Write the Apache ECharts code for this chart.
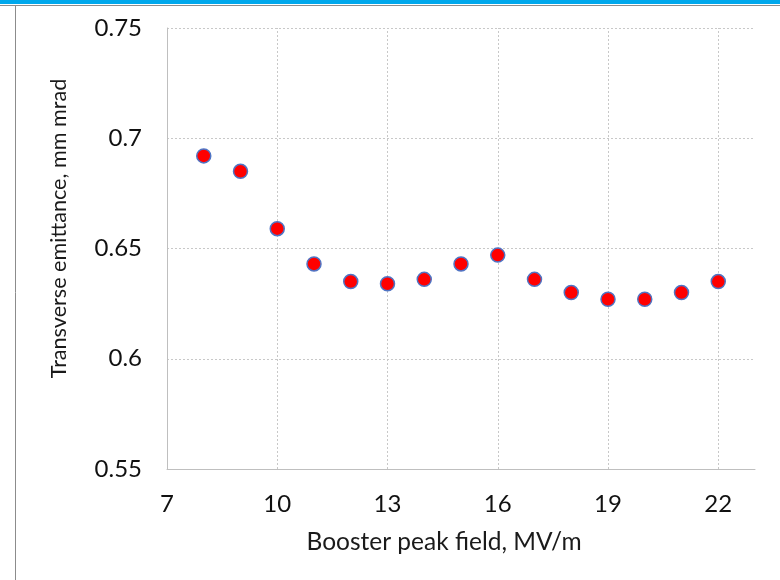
<!DOCTYPE html>
<html>
<head>
<meta charset="utf-8">
<script src="https://cdn.jsdelivr.net/npm/echarts@6/dist/echarts.min.js"></script>
<style>
  html, body { margin: 0; padding: 0; background: #fff; }
  #chart { width: 780px; height: 580px; }
</style>
</head>
<body>
<div id="chart"></div>
<script>
const fieldValues = [8, 9, 10, 11, 12, 13, 14, 15, 16, 17, 18, 19, 20, 21, 22];
const emittanceValues = [0.692, 0.685, 0.659, 0.643, 0.635, 0.634, 0.636, 0.643, 0.647, 0.636, 0.630, 0.627, 0.627, 0.630, 0.635];
const xTickValues = [7, 10, 13, 16, 19, 22];
const xTitle = 'Booster peak field, MV/m';
const yTitle = 'Transverse emittance, mm mrad';

const points = fieldValues.map((x, i) => [x, emittanceValues[i]]);

const chart = echarts.init(document.getElementById('chart'), null, { renderer: 'canvas' });
const font = 'Lato, "Open Sans", sans-serif';
const gridColor = '#c8c8c8';

chart.setOption({
  animation: false,
  backgroundColor: '#ffffff',
  graphic: [
    { type: 'rect', shape: { x: 0, y: 0, width: 780, height: 4 }, style: { fill: '#00a8ec' }, silent: true },
    { type: 'line', shape: { x1: 0, y1: 5.5, x2: 780, y2: 5.5 }, style: { stroke: '#8c8c8c', lineWidth: 1 }, silent: true },
    { type: 'line', shape: { x1: 15.5, y1: 5, x2: 15.5, y2: 580 }, style: { stroke: '#8c8c8c', lineWidth: 1 }, silent: true }
  ],
  grid: { left: 167, top: 28, width: 588, height: 441, containLabel: false },
  xAxis: {
    type: 'value',
    min: 7, max: 23, interval: 3,
    name: xTitle,
    nameLocation: 'middle',
    nameGap: 61,
    nameTextStyle: { fontFamily: font, fontSize: 24.5, color: '#1a1a1a', padding: [0, 34, 0, 0] },
    axisLine: { show: true, lineStyle: { color: '#bfbfbf', width: 1 } },
    axisTick: { show: false },
    axisLabel: { fontFamily: font, fontSize: 24, color: '#111', margin: 23, showMaxLabel: false },
    splitLine: { show: false }
  },
  yAxis: {
    type: 'value',
    min: 0.55, max: 0.75, interval: 0.05,
    name: yTitle,
    nameLocation: 'middle',
    nameGap: 97,
    nameTextStyle: { fontFamily: font, fontSize: 21.6, color: '#1a1a1a', padding: [0, 0, 0, 40] },
    axisLine: { show: true, lineStyle: { color: '#bfbfbf', width: 1 } },
    axisTick: { show: false },
    axisLabel: {
      fontFamily: font, fontSize: 24, color: '#111', margin: 25,
      formatter: v => String(parseFloat(v.toFixed(2)))
    },
    splitLine: { show: true, lineStyle: { color: gridColor, type: [2, 2], width: 1 } }
  },
  series: [{
    type: 'scatter',
    data: points,
    symbol: 'circle',
    symbolSize: 14,
    z: 3,
    itemStyle: { color: '#ff0000', borderColor: '#4f74c4', borderWidth: 1.5, opacity: 1 },
    markLine: {
      silent: true,
      symbol: ['none', 'none'],
      label: { show: false },
      animation: false,
      z: 1,
      lineStyle: { color: gridColor, type: [2, 2], width: 1 },
      emphasis: { disabled: true },
      data: xTickValues.slice(1).map(v => ({ xAxis: v }))
    }
  }]
});
</script>
</body>
</html>
